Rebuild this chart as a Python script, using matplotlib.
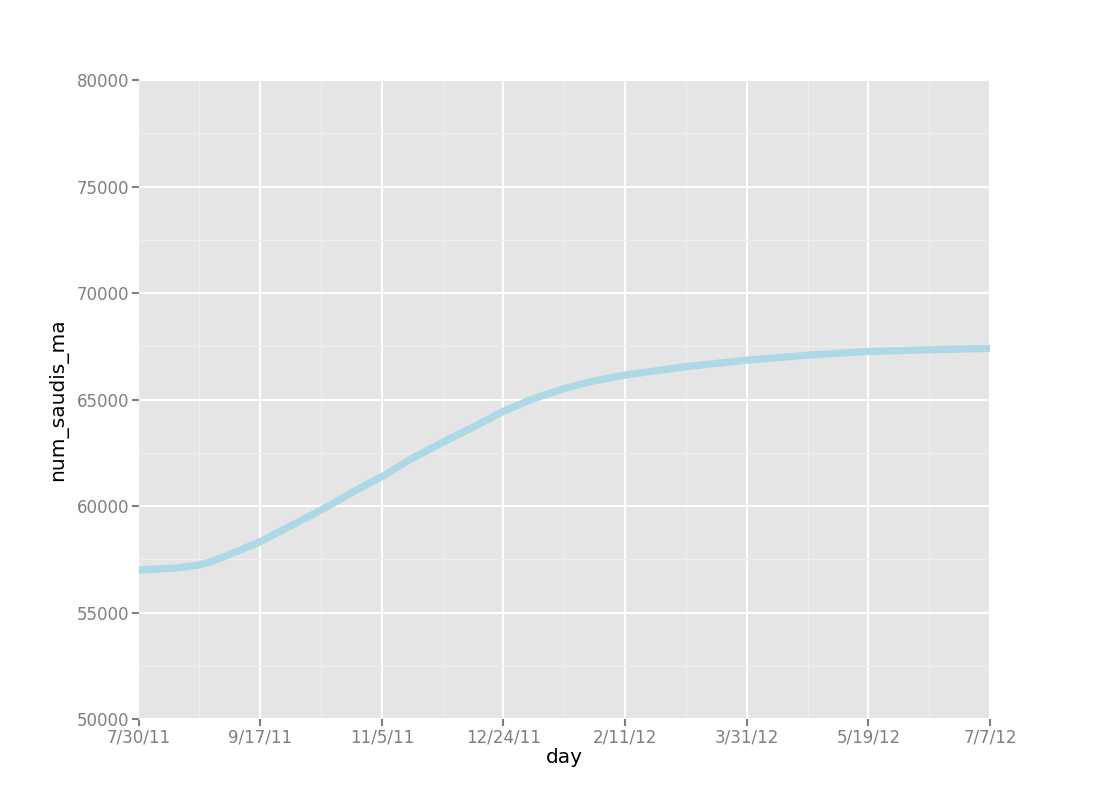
import matplotlib
matplotlib.use("Agg")
import matplotlib.pyplot as plt
import matplotlib.dates as mdates
import numpy as np
import pandas as pd
from matplotlib.ticker import FixedLocator, MultipleLocator

# ---- data ----
days = ["2011-07-30", "2011-08-13", "2011-08-23", "2011-08-28", "2011-09-04",
        "2011-09-17", "2011-10-01", "2011-10-12", "2011-10-28", "2011-11-05",
        "2011-11-17", "2011-11-30", "2011-12-12", "2011-12-24", "2012-01-04",
        "2012-01-17", "2012-01-29", "2012-02-11", "2012-03-06", "2012-03-31",
        "2012-04-25", "2012-05-19", "2012-06-13", "2012-07-07"]
num_saudis_ma = [57000, 57090, 57230, 57385, 57700,
                 58330, 59180, 59850, 60900, 61380,
                 62230, 63020, 63720, 64450, 65000,
                 65500, 65870, 66150, 66540, 66850,
                 67090, 67260, 67340, 67400]
x_tick_dates = ["2011-07-30", "2011-09-17", "2011-11-05", "2011-12-24",
                "2012-02-11", "2012-03-31", "2012-05-19", "2012-07-07"]
x_tick_labels = ["7/30/11", "9/17/11", "11/5/11", "12/24/11",
                 "2/11/12", "3/31/12", "5/19/12", "7/7/12"]
y_ticks = [50000, 55000, 60000, 65000, 70000, 75000, 80000]

# ---- plot ----
dates = mdates.date2num(pd.to_datetime(days))
tick_nums = mdates.date2num(pd.to_datetime(x_tick_dates))
minor_nums = (tick_nums[:-1] + tick_nums[1:]) / 2.0

fig = plt.figure(figsize=(11, 8), dpi=100)
ax = fig.add_subplot(111)
ax.set_facecolor("#E5E5E5")

ax.plot(dates, num_saudis_ma, color="#ADD8E6", linewidth=5.2,
        solid_capstyle="butt", solid_joinstyle="round", zorder=3)

ax.set_xlim(tick_nums[0], tick_nums[-1])
ax.set_ylim(y_ticks[0], y_ticks[-1])

ax.xaxis.set_major_locator(FixedLocator(tick_nums))
ax.set_xticklabels(x_tick_labels)
ax.xaxis.set_minor_locator(FixedLocator(minor_nums))
ax.set_yticks(y_ticks)
ax.set_yticklabels([str(v) for v in y_ticks])
ax.yaxis.set_minor_locator(MultipleLocator(2500))

ax.grid(which="major", color="white", linewidth=1.5, zorder=1)
ax.grid(which="minor", color="#EFEFEF", linewidth=0.8, zorder=0.5)
ax.set_axisbelow(True)

for side in ["top", "right", "bottom"]:
    ax.spines[side].set_visible(False)
ax.spines["left"].set_color("#EBEBEB")
ax.spines["left"].set_linewidth(1.0)

ax.tick_params(axis="both", which="major", direction="out", length=5,
               width=1.5, color="#7F7F7F", labelcolor="#7F7F7F",
               labelsize=12, pad=2)
ax.tick_params(axis="both", which="minor", length=0)

ax.set_xlabel("day", fontsize=14.5, color="black", labelpad=1)
ax.set_ylabel("num_saudis_ma", fontsize=14.5, color="black", labelpad=6)

fig.subplots_adjust(left=0.126, right=0.9, bottom=0.101, top=0.9)
fig.savefig("out.png", dpi=100)
